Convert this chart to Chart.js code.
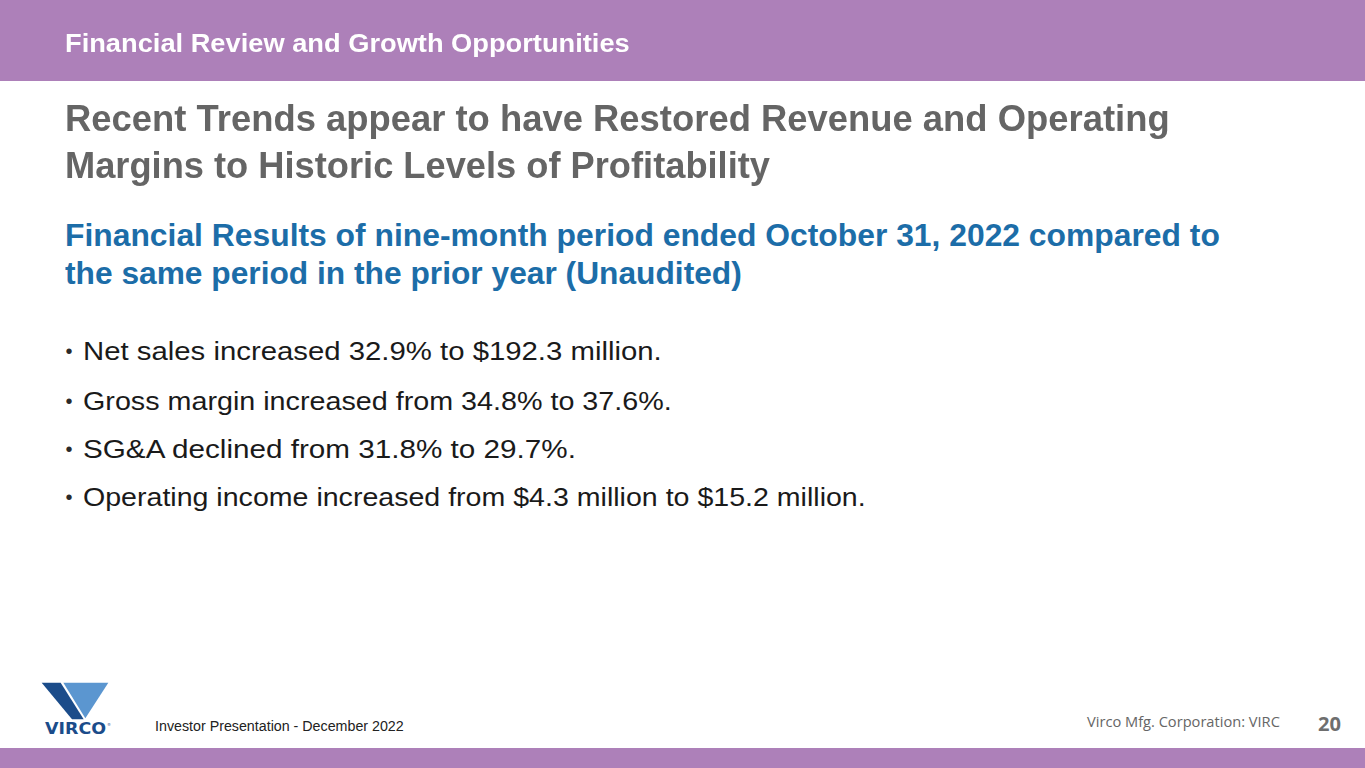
<!DOCTYPE html>
<html>
<head>
<meta charset="utf-8">
<script src="https://cdn.jsdelivr.net/npm/chart.js@4.4.0/dist/chart.umd.min.js"></script>
<style>
  html,body{margin:0;padding:0;background:#fff;}
  #slide{position:relative;width:1365px;height:768px;overflow:hidden;background:#fff;font-family:"Liberation Sans",Arial,Helvetica,sans-serif;}
  .band{position:absolute;left:0;width:1365px;background:#ad80b9;}
  .t{position:absolute;white-space:nowrap;line-height:1;}
  #chartBox{position:absolute;left:0;top:0;width:1px;height:1px;opacity:0;pointer-events:none;}
</style>
</head>
<body>
<div id="slide">
  <div class="band" style="top:0;height:81px;"></div>
  <div class="band" style="top:748px;height:20px;"></div>
  <svg style="position:absolute;left:40px;top:680px;" width="72" height="60" viewBox="0 0 216 180">
    <polygon points="5,8 62,8 131,118 96,118" fill="#1b4c8a"/>
    <polygon points="70,8 205,8 136,115" fill="#5b96d0"/>
    <text x="15" y="162" font-family="DejaVu Sans" font-weight="bold" font-size="45" fill="#1b4c8a" textLength="183" lengthAdjust="spacingAndGlyphs">VIRCO</text>
    <text x="201" y="138" font-family="DejaVu Sans" font-size="12" fill="#1b4c8a">®</text>
  </svg>
  <div id="chartBox"><canvas id="c"></canvas></div>
</div>
<script>
// ---- slide data ----
const headerText = ["Financial Review and Growth Opportunities"];
const titleLines = ["Recent Trends appear to have Restored Revenue and Operating",
                    "Margins to Historic Levels of Profitability"];
const subtitleLines = ["Financial Results of nine-month period ended October 31, 2022 compared to",
                       "the same period in the prior year (Unaudited)"];
const metricNames = ["Net sales", "Gross margin", "SG&A", "Operating income"];
const priorValues = [null, 34.8, 31.8, 4.3];
const currentValues = [192.3, 37.6, 29.7, 15.2];
const salesGrowth = [32.9];
const footerLeft = ["Investor Presentation - December 2022"];
const footerRight = ["Virco Mfg. Corporation: VIRC"];
const pageNumber = ["20"];

const bullets = [
  metricNames[0] + " increased " + salesGrowth[0].toFixed(1) + "% to $" + currentValues[0].toFixed(1) + " million.",
  metricNames[1] + " increased from " + priorValues[1].toFixed(1) + "% to " + currentValues[1].toFixed(1) + "%.",
  metricNames[2] + " declined from " + priorValues[2].toFixed(1) + "% to " + currentValues[2].toFixed(1) + "%.",
  metricNames[3] + " increased from $" + priorValues[3].toFixed(1) + " million to $" + currentValues[3].toFixed(1) + " million."
];

const slide = document.getElementById('slide');
// place a text line: left x, baseline y, right edge endX (fit width), cap height cap (vertical scale)
function place(text, x, baseline, endX, size, weight, color, cap, family, asc, capRatio){
  const s = document.createElement('div');
  s.className = 't';
  s.textContent = text;
  s.style.fontSize = size + 'px';
  s.style.fontWeight = weight;
  s.style.color = color;
  if (family) s.style.fontFamily = family;
  slide.appendChild(s);
  if (endX) {
    const w = s.getBoundingClientRect().width;
    size = size * (endX - x) / w;
    s.style.fontSize = size + 'px';
  }
  const a = (asc || 0.8465) * size;
  s.style.left = x + 'px';
  s.style.top = (baseline - a) + 'px';
  if (cap) {
    const sy = cap / ((capRatio || 0.716) * size);
    s.style.transformOrigin = '0px ' + a + 'px';
    s.style.transform = 'scaleY(' + sy + ')';
  }
}
place(headerText[0], 65, 52.3, 630, 24, 'bold', '#ffffff', 19);
place(titleLines[0], 65, 131.7, 1170, 36, 'bold', '#656565', 26.5);
place(titleLines[1], 65, 178.3, 770, 36, 'bold', '#656565', 26.5);
place(subtitleLines[0], 65, 247, 1220, 30, 'bold', '#1c6da8', 22);
place(subtitleLines[1], 65, 285, 742, 30, 'bold', '#1c6da8', 22);
const bulletEnds = [662, 672, 576, 866];
const bulletBase = [360, 410, 458, 506];
bullets.forEach((b,i)=>{
  place('•', 65.5, bulletBase[i] - 2, null, 20, 'normal', '#2a2a2a');
  place(b, 83, bulletBase[i], bulletEnds[i], 24, 'normal', '#1a1a1a', 18.3);
});
place(footerLeft[0], 155, 731, 404, 14, 'normal', '#222222', 11);
place(footerRight[0], 1087, 729, 1280, 16, 'normal', '#666666', null, '"Open Sans", sans-serif', 1.0);
place(pageNumber[0], 1318, 734, 1341, 19, 'bold', '#6e6e6e', null, '"Open Sans", sans-serif', 1.0);

// Chart.js instance holding the key metrics (not visible on the slide)
new Chart(document.getElementById('c'), {
  type: 'bar',
  data: { labels: metricNames, datasets: [
    { label: 'Prior', data: priorValues },
    { label: 'Current', data: currentValues } ] },
  options: { animation: false, responsive: false, plugins: { legend: { display: false } } }
});
</script>
</body>
</html>
